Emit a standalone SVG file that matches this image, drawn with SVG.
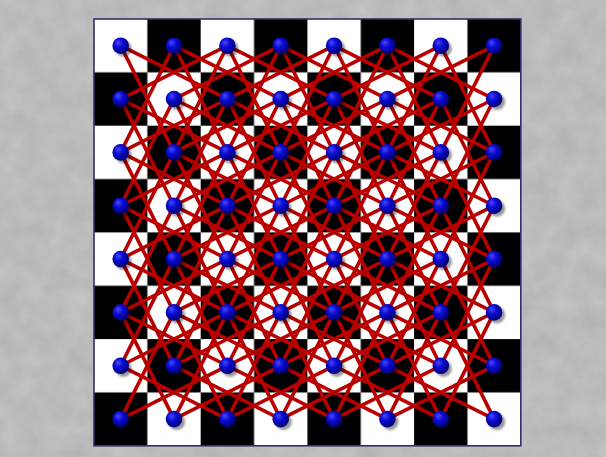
<svg xmlns="http://www.w3.org/2000/svg" xmlns:xlink="http://www.w3.org/1999/xlink" width="606" height="457" viewBox="0 0 606 457">
<style>
.e path{fill:none;stroke:#b80000;stroke-width:3.6;stroke-linecap:round}
.board{stroke:#303068;stroke-width:1.6;fill:none}
</style>
<defs>
<filter id="tex" x="0" y="0" width="100%" height="100%" filterUnits="userSpaceOnUse" color-interpolation-filters="sRGB">
<feTurbulence type="fractalNoise" baseFrequency="0.045" numOctaves="4" seed="7"/>
<feColorMatrix type="matrix" values="0.09 0 0 0 0.69  0.09 0 0 0 0.69  0.09 0 0 0 0.69  0 0 0 0 1"/>
</filter>
<filter id="blur" x="-50%" y="-50%" width="200%" height="200%"><feGaussianBlur stdDeviation="1.1"/></filter>
<pattern id="chk" patternUnits="userSpaceOnUse" x="94" y="19" width="106.7" height="106.7">
<rect width="106.7" height="106.7" fill="#fff"/>
<rect x="53.35" y="0" width="53.35" height="53.35" fill="#000"/>
<rect x="0" y="53.35" width="53.35" height="53.35" fill="#000"/>
</pattern>
<radialGradient id="ball" cx="0.42" cy="0.4" r="0.62" fx="0.34" fy="0.3">
<stop offset="0" stop-color="#4848ff"/>
<stop offset="0.45" stop-color="#0a0ad0"/>
<stop offset="1" stop-color="#000070"/>
</radialGradient>
<g id="node">
<circle cx="2.8" cy="2.8" r="8.3" fill="#000" opacity="0.4" filter="url(#blur)"/>
<circle r="8.3" fill="url(#ball)"/>
</g>
</defs>
<rect width="606" height="457" fill="#bababa" filter="url(#tex)"/>
<rect x="94" y="19" width="426.8" height="426.8" fill="url(#chk)"/>
<rect class="board" x="94" y="19" width="426.8" height="426.8"/>
<g class="e" id="connectors">
<path d="M120.7 45.7l106.7 53.35"/><path d="M174 45.7l106.7 53.35"/><path d="M227.4 45.7l106.7 53.35"/><path d="M280.7 45.7l106.7 53.35"/><path d="M334.1 45.7l106.7 53.35"/><path d="M387.4 45.7l106.7 53.35"/>
<path d="M120.7 99l106.7 53.35"/><path d="M174 99l106.7 53.35"/><path d="M227.4 99l106.7 53.35"/><path d="M280.7 99l106.7 53.35"/><path d="M334.1 99l106.7 53.35"/><path d="M387.4 99l106.7 53.35"/>
<path d="M120.7 152.4l106.7 53.35"/><path d="M174 152.4l106.7 53.35"/><path d="M227.4 152.4l106.7 53.35"/><path d="M280.7 152.4l106.7 53.35"/><path d="M334.1 152.4l106.7 53.35"/><path d="M387.4 152.4l106.7 53.35"/>
<path d="M120.7 205.7l106.7 53.35"/><path d="M174 205.7l106.7 53.35"/><path d="M227.4 205.7l106.7 53.35"/><path d="M280.7 205.7l106.7 53.35"/><path d="M334.1 205.7l106.7 53.35"/><path d="M387.4 205.7l106.7 53.35"/>
<path d="M120.7 259.1l106.7 53.35"/><path d="M174 259.1l106.7 53.35"/><path d="M227.4 259.1l106.7 53.35"/><path d="M280.7 259.1l106.7 53.35"/><path d="M334.1 259.1l106.7 53.35"/><path d="M387.4 259.1l106.7 53.35"/>
<path d="M120.7 312.4l106.7 53.35"/><path d="M174 312.4l106.7 53.35"/><path d="M227.4 312.4l106.7 53.35"/><path d="M280.7 312.4l106.7 53.35"/><path d="M334.1 312.4l106.7 53.35"/><path d="M387.4 312.4l106.7 53.35"/>
<path d="M120.7 365.8l106.7 53.35"/><path d="M174 365.8l106.7 53.35"/><path d="M227.4 365.8l106.7 53.35"/><path d="M280.7 365.8l106.7 53.35"/><path d="M334.1 365.8l106.7 53.35"/><path d="M387.4 365.8l106.7 53.35"/>
<path d="M227.4 45.7l-106.7 53.35"/><path d="M280.7 45.7l-106.7 53.35"/><path d="M334.1 45.7l-106.7 53.35"/><path d="M387.4 45.7l-106.7 53.35"/><path d="M440.8 45.7l-106.7 53.35"/><path d="M494.1 45.7l-106.7 53.35"/>
<path d="M227.4 99l-106.7 53.35"/><path d="M280.7 99l-106.7 53.35"/><path d="M334.1 99l-106.7 53.35"/><path d="M387.4 99l-106.7 53.35"/><path d="M440.8 99l-106.7 53.35"/><path d="M494.1 99l-106.7 53.35"/>
<path d="M227.4 152.4l-106.7 53.35"/><path d="M280.7 152.4l-106.7 53.35"/><path d="M334.1 152.4l-106.7 53.35"/><path d="M387.4 152.4l-106.7 53.35"/><path d="M440.8 152.4l-106.7 53.35"/><path d="M494.1 152.4l-106.7 53.35"/>
<path d="M227.4 205.7l-106.7 53.35"/><path d="M280.7 205.7l-106.7 53.35"/><path d="M334.1 205.7l-106.7 53.35"/><path d="M387.4 205.7l-106.7 53.35"/><path d="M440.8 205.7l-106.7 53.35"/><path d="M494.1 205.7l-106.7 53.35"/>
<path d="M227.4 259.1l-106.7 53.35"/><path d="M280.7 259.1l-106.7 53.35"/><path d="M334.1 259.1l-106.7 53.35"/><path d="M387.4 259.1l-106.7 53.35"/><path d="M440.8 259.1l-106.7 53.35"/><path d="M494.1 259.1l-106.7 53.35"/>
<path d="M227.4 312.4l-106.7 53.35"/><path d="M280.7 312.4l-106.7 53.35"/><path d="M334.1 312.4l-106.7 53.35"/><path d="M387.4 312.4l-106.7 53.35"/><path d="M440.8 312.4l-106.7 53.35"/><path d="M494.1 312.4l-106.7 53.35"/>
<path d="M227.4 365.8l-106.7 53.35"/><path d="M280.7 365.8l-106.7 53.35"/><path d="M334.1 365.8l-106.7 53.35"/><path d="M387.4 365.8l-106.7 53.35"/><path d="M440.8 365.8l-106.7 53.35"/><path d="M494.1 365.8l-106.7 53.35"/>
<path d="M120.7 45.7l53.35 106.7"/><path d="M174 45.7l53.35 106.7"/><path d="M227.4 45.7l53.35 106.7"/><path d="M280.7 45.7l53.35 106.7"/><path d="M334.1 45.7l53.35 106.7"/><path d="M387.4 45.7l53.35 106.7"/><path d="M440.8 45.7l53.35 106.7"/>
<path d="M120.7 99l53.35 106.7"/><path d="M174 99l53.35 106.7"/><path d="M227.4 99l53.35 106.7"/><path d="M280.7 99l53.35 106.7"/><path d="M334.1 99l53.35 106.7"/><path d="M387.4 99l53.35 106.7"/><path d="M440.8 99l53.35 106.7"/>
<path d="M120.7 152.4l53.35 106.7"/><path d="M174 152.4l53.35 106.7"/><path d="M227.4 152.4l53.35 106.7"/><path d="M280.7 152.4l53.35 106.7"/><path d="M334.1 152.4l53.35 106.7"/><path d="M387.4 152.4l53.35 106.7"/><path d="M440.8 152.4l53.35 106.7"/>
<path d="M120.7 205.7l53.35 106.7"/><path d="M174 205.7l53.35 106.7"/><path d="M227.4 205.7l53.35 106.7"/><path d="M280.7 205.7l53.35 106.7"/><path d="M334.1 205.7l53.35 106.7"/><path d="M387.4 205.7l53.35 106.7"/><path d="M440.8 205.7l53.35 106.7"/>
<path d="M120.7 259.1l53.35 106.7"/><path d="M174 259.1l53.35 106.7"/><path d="M227.4 259.1l53.35 106.7"/><path d="M280.7 259.1l53.35 106.7"/><path d="M334.1 259.1l53.35 106.7"/><path d="M387.4 259.1l53.35 106.7"/><path d="M440.8 259.1l53.35 106.7"/>
<path d="M120.7 312.4l53.35 106.7"/><path d="M174 312.4l53.35 106.7"/><path d="M227.4 312.4l53.35 106.7"/><path d="M280.7 312.4l53.35 106.7"/><path d="M334.1 312.4l53.35 106.7"/><path d="M387.4 312.4l53.35 106.7"/><path d="M440.8 312.4l53.35 106.7"/>
<path d="M174 45.7l-53.35 106.7"/><path d="M227.4 45.7l-53.35 106.7"/><path d="M280.7 45.7l-53.35 106.7"/><path d="M334.1 45.7l-53.35 106.7"/><path d="M387.4 45.7l-53.35 106.7"/><path d="M440.8 45.7l-53.35 106.7"/><path d="M494.1 45.7l-53.35 106.7"/>
<path d="M174 99l-53.35 106.7"/><path d="M227.4 99l-53.35 106.7"/><path d="M280.7 99l-53.35 106.7"/><path d="M334.1 99l-53.35 106.7"/><path d="M387.4 99l-53.35 106.7"/><path d="M440.8 99l-53.35 106.7"/><path d="M494.1 99l-53.35 106.7"/>
<path d="M174 152.4l-53.35 106.7"/><path d="M227.4 152.4l-53.35 106.7"/><path d="M280.7 152.4l-53.35 106.7"/><path d="M334.1 152.4l-53.35 106.7"/><path d="M387.4 152.4l-53.35 106.7"/><path d="M440.8 152.4l-53.35 106.7"/><path d="M494.1 152.4l-53.35 106.7"/>
<path d="M174 205.7l-53.35 106.7"/><path d="M227.4 205.7l-53.35 106.7"/><path d="M280.7 205.7l-53.35 106.7"/><path d="M334.1 205.7l-53.35 106.7"/><path d="M387.4 205.7l-53.35 106.7"/><path d="M440.8 205.7l-53.35 106.7"/><path d="M494.1 205.7l-53.35 106.7"/>
<path d="M174 259.1l-53.35 106.7"/><path d="M227.4 259.1l-53.35 106.7"/><path d="M280.7 259.1l-53.35 106.7"/><path d="M334.1 259.1l-53.35 106.7"/><path d="M387.4 259.1l-53.35 106.7"/><path d="M440.8 259.1l-53.35 106.7"/><path d="M494.1 259.1l-53.35 106.7"/>
<path d="M174 312.4l-53.35 106.7"/><path d="M227.4 312.4l-53.35 106.7"/><path d="M280.7 312.4l-53.35 106.7"/><path d="M334.1 312.4l-53.35 106.7"/><path d="M387.4 312.4l-53.35 106.7"/><path d="M440.8 312.4l-53.35 106.7"/><path d="M494.1 312.4l-53.35 106.7"/>
</g>
<g id="nodes">
<g id="a8"><use href="#node" x="120.7" y="45.7"/></g><g id="b8"><use href="#node" x="174" y="45.7"/></g><g id="c8"><use href="#node" x="227.4" y="45.7"/></g><g id="d8"><use href="#node" x="280.7" y="45.7"/></g><g id="e8"><use href="#node" x="334.1" y="45.7"/></g><g id="f8"><use href="#node" x="387.4" y="45.7"/></g><g id="g8"><use href="#node" x="440.8" y="45.7"/></g><g id="h8"><use href="#node" x="494.1" y="45.7"/></g>
<g id="a7"><use href="#node" x="120.7" y="99"/></g><g id="b7"><use href="#node" x="174" y="99"/></g><g id="c7"><use href="#node" x="227.4" y="99"/></g><g id="d7"><use href="#node" x="280.7" y="99"/></g><g id="e7"><use href="#node" x="334.1" y="99"/></g><g id="f7"><use href="#node" x="387.4" y="99"/></g><g id="g7"><use href="#node" x="440.8" y="99"/></g><g id="h7"><use href="#node" x="494.1" y="99"/></g>
<g id="a6"><use href="#node" x="120.7" y="152.4"/></g><g id="b6"><use href="#node" x="174" y="152.4"/></g><g id="c6"><use href="#node" x="227.4" y="152.4"/></g><g id="d6"><use href="#node" x="280.7" y="152.4"/></g><g id="e6"><use href="#node" x="334.1" y="152.4"/></g><g id="f6"><use href="#node" x="387.4" y="152.4"/></g><g id="g6"><use href="#node" x="440.8" y="152.4"/></g><g id="h6"><use href="#node" x="494.1" y="152.4"/></g>
<g id="a5"><use href="#node" x="120.7" y="205.7"/></g><g id="b5"><use href="#node" x="174" y="205.7"/></g><g id="c5"><use href="#node" x="227.4" y="205.7"/></g><g id="d5"><use href="#node" x="280.7" y="205.7"/></g><g id="e5"><use href="#node" x="334.1" y="205.7"/></g><g id="f5"><use href="#node" x="387.4" y="205.7"/></g><g id="g5"><use href="#node" x="440.8" y="205.7"/></g><g id="h5"><use href="#node" x="494.1" y="205.7"/></g>
<g id="a4"><use href="#node" x="120.7" y="259.1"/></g><g id="b4"><use href="#node" x="174" y="259.1"/></g><g id="c4"><use href="#node" x="227.4" y="259.1"/></g><g id="d4"><use href="#node" x="280.7" y="259.1"/></g><g id="e4"><use href="#node" x="334.1" y="259.1"/></g><g id="f4"><use href="#node" x="387.4" y="259.1"/></g><g id="g4"><use href="#node" x="440.8" y="259.1"/></g><g id="h4"><use href="#node" x="494.1" y="259.1"/></g>
<g id="a3"><use href="#node" x="120.7" y="312.4"/></g><g id="b3"><use href="#node" x="174" y="312.4"/></g><g id="c3"><use href="#node" x="227.4" y="312.4"/></g><g id="d3"><use href="#node" x="280.7" y="312.4"/></g><g id="e3"><use href="#node" x="334.1" y="312.4"/></g><g id="f3"><use href="#node" x="387.4" y="312.4"/></g><g id="g3"><use href="#node" x="440.8" y="312.4"/></g><g id="h3"><use href="#node" x="494.1" y="312.4"/></g>
<g id="a2"><use href="#node" x="120.7" y="365.8"/></g><g id="b2"><use href="#node" x="174" y="365.8"/></g><g id="c2"><use href="#node" x="227.4" y="365.8"/></g><g id="d2"><use href="#node" x="280.7" y="365.8"/></g><g id="e2"><use href="#node" x="334.1" y="365.8"/></g><g id="f2"><use href="#node" x="387.4" y="365.8"/></g><g id="g2"><use href="#node" x="440.8" y="365.8"/></g><g id="h2"><use href="#node" x="494.1" y="365.8"/></g>
<g id="a1"><use href="#node" x="120.7" y="419.1"/></g><g id="b1"><use href="#node" x="174" y="419.1"/></g><g id="c1"><use href="#node" x="227.4" y="419.1"/></g><g id="d1"><use href="#node" x="280.7" y="419.1"/></g><g id="e1"><use href="#node" x="334.1" y="419.1"/></g><g id="f1"><use href="#node" x="387.4" y="419.1"/></g><g id="g1"><use href="#node" x="440.8" y="419.1"/></g><g id="h1"><use href="#node" x="494.1" y="419.1"/></g>
</g>
</svg>
